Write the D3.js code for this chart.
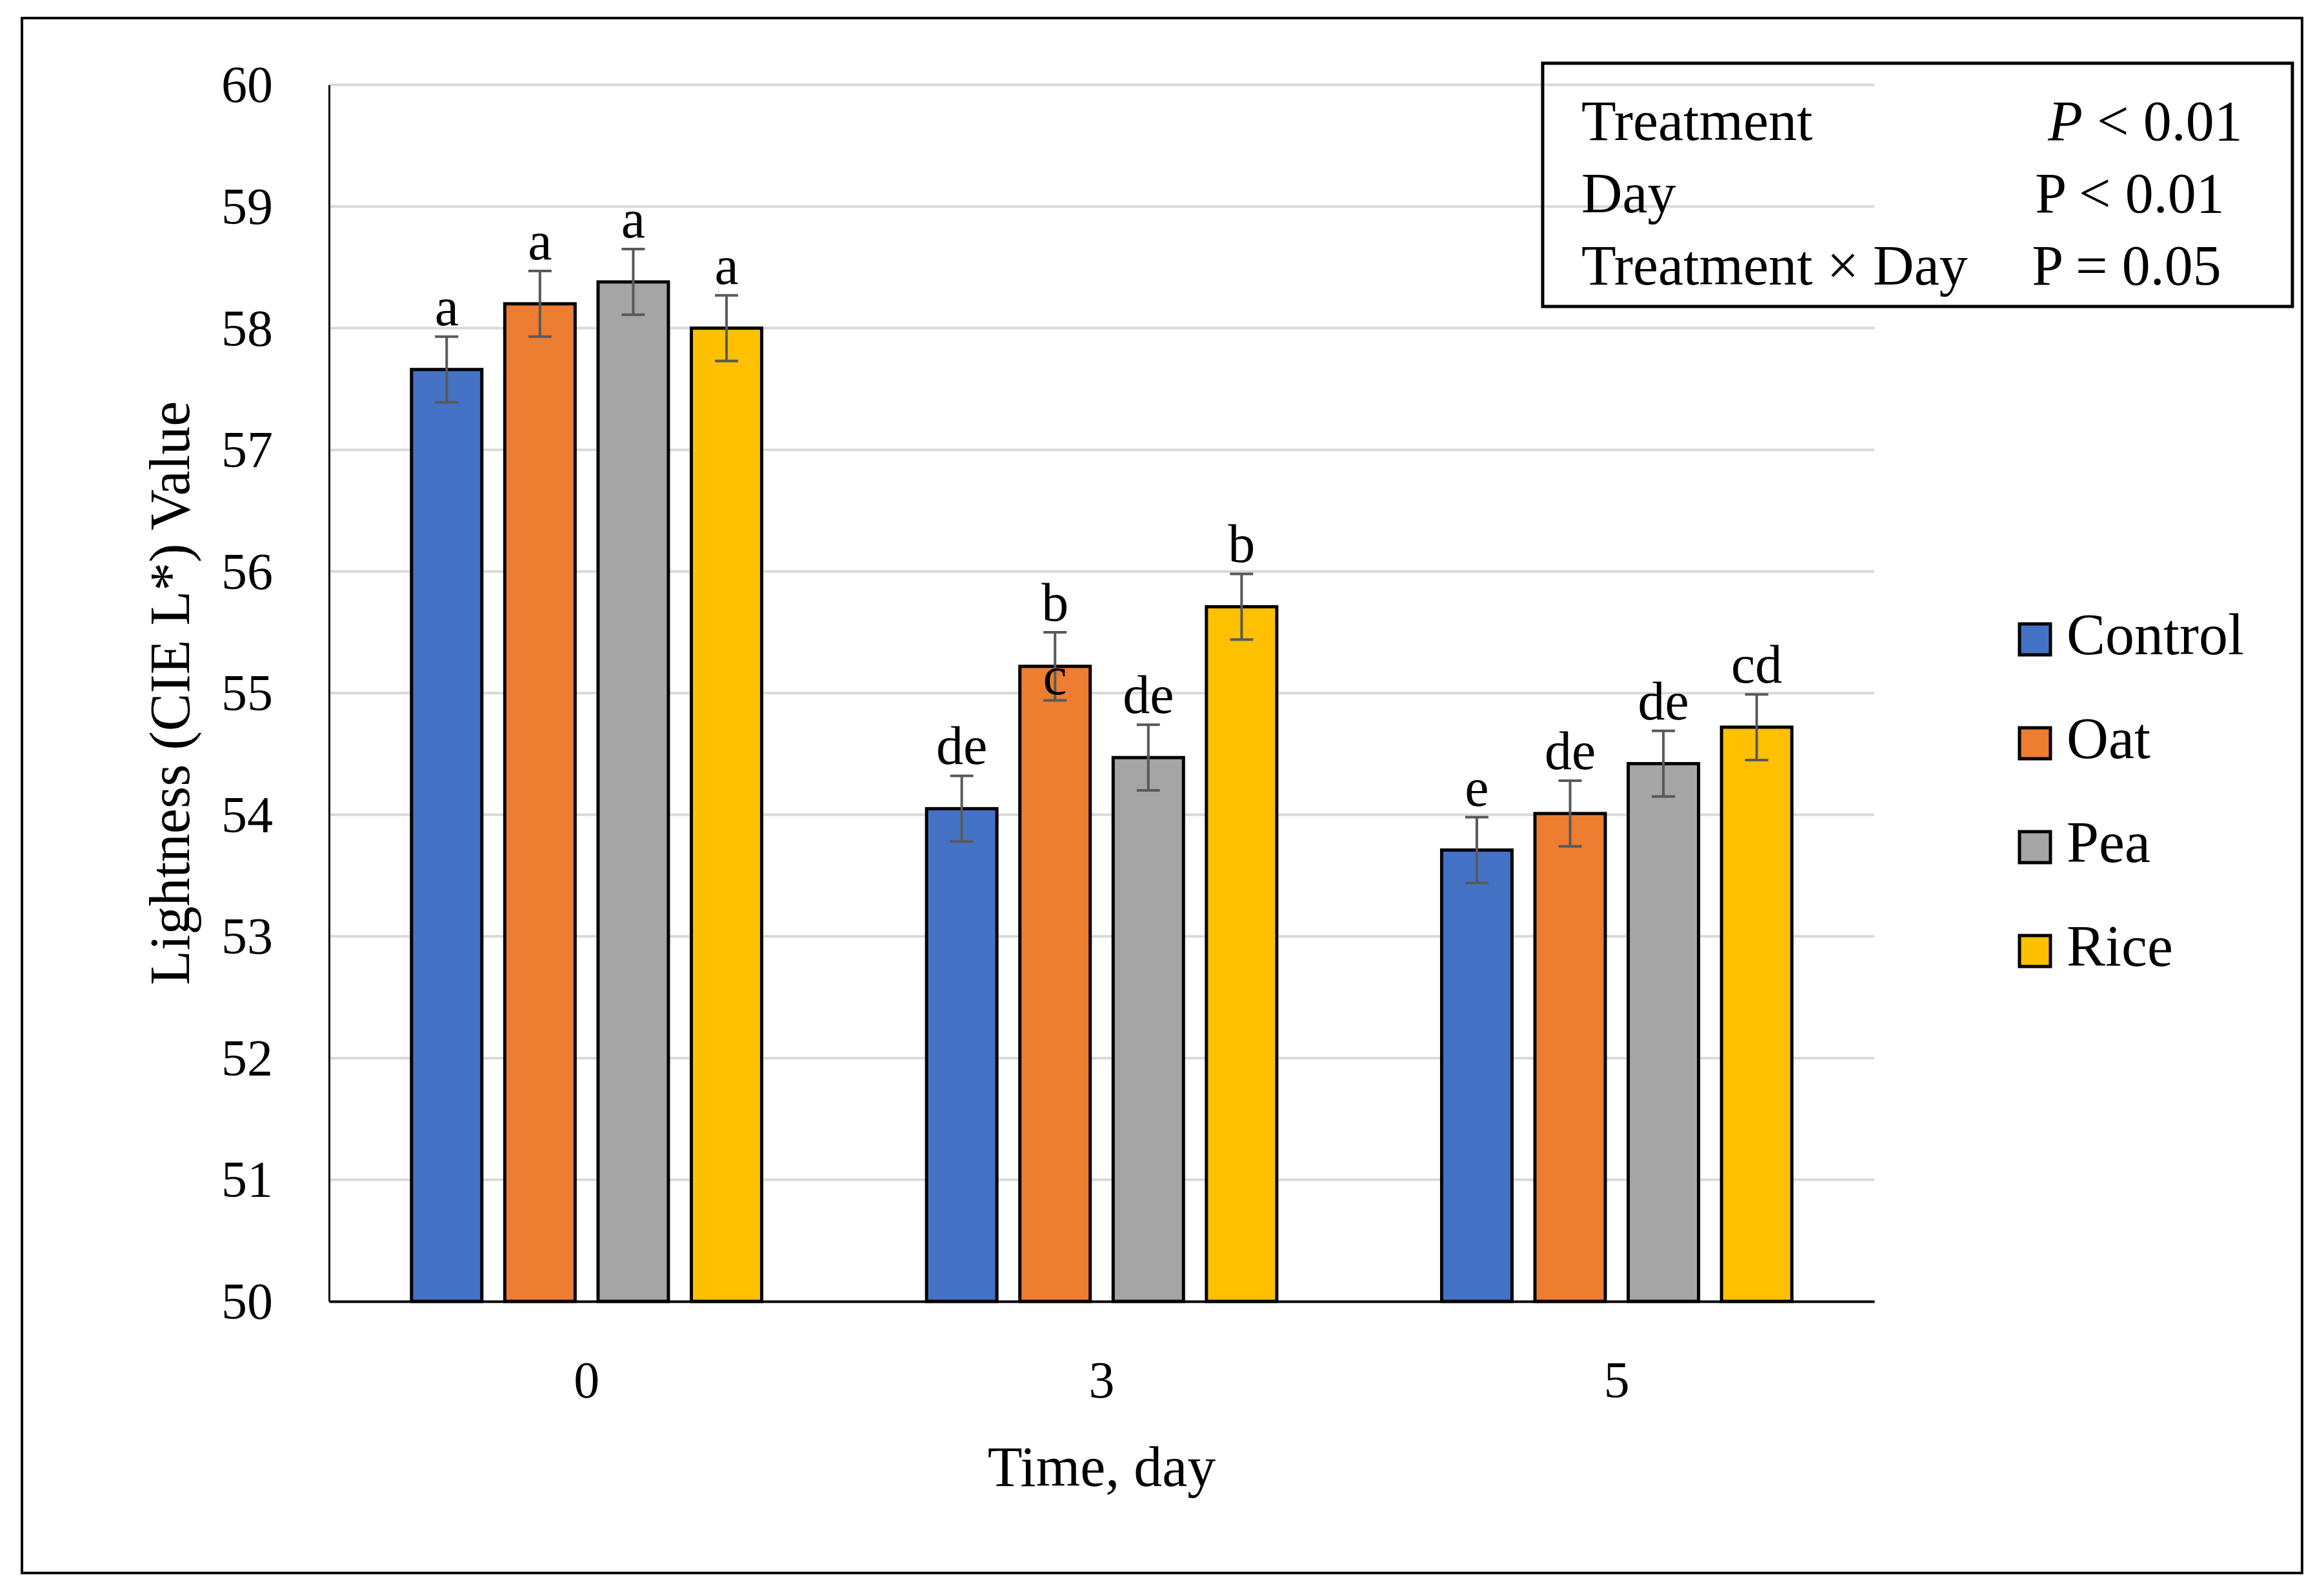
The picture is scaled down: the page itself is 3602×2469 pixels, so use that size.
<!DOCTYPE html>
<html>
<head>
<meta charset="utf-8">
<script src="https://cdn.jsdelivr.net/npm/d3@7"></script>
<style>
  body { margin: 0; background: #fff; }
  text { font-family: "Palatino Linotype", "Book Antiqua", "Liberation Serif", serif; fill: #000; }
</style>
</head>
<body>
<div id="chart"></div>
<script>
// Data
var days = ['0', '3', '5'];
var series = ['Control', 'Oat', 'Pea', 'Rice'];
var colors = ['#4472C4', '#ED7D31', '#A5A5A5', '#FFC000'];
var controlVals = [57.66, 54.05, 53.71];
var oatVals = [58.20, 55.22, 54.01];
var peaVals = [58.38, 54.47, 54.42];
var riceVals = [58.00, 55.71, 54.72];
var controlErr = [0.27, 0.27, 0.27];
var oatErr = [0.27, 0.28, 0.27];
var peaErr = [0.27, 0.27, 0.27];
var riceErr = [0.27, 0.27, 0.27];
var controlLetters = ['a', 'de', 'e'];
var oatLetters = ['a', 'b\nc', 'de'];
var peaLetters = ['a', 'de', 'de'];
var riceLetters = ['a', 'b', 'cd'];
var yTicks = [50, 51, 52, 53, 54, 55, 56, 57, 58, 59, 60];
var statTerms = ['Treatment', 'Day', 'Treatment \u00d7 Day'];
var statSigns = ['<', '<', '='];
var statP = ['0.01', '0.01', '0.05'];
var statItalic = [true, false, false];

var width = 3602, height = 2469;
var margin = {top: 131.5, left: 510, right: 697, bottom: 452};
var plotRight = width - margin.right;
var plotBottom = height - margin.bottom;

var vals = [controlVals, oatVals, peaVals, riceVals];
var errs = [controlErr, oatErr, peaErr, riceErr];
var letters = [controlLetters, oatLetters, peaLetters, riceLetters];

var data = [];
days.forEach(function(d, di) {
    series.forEach(function(s, si) {
        data.push({day: d, series: s, color: colors[si], value: vals[si][di], err: errs[si][di], letter: letters[si][di]});
    });
});

var svg = d3.select('#chart').append('svg')
    .attr('width', width)
    .attr('height', height);

svg.append('rect').attr('width', width).attr('height', height).attr('fill', '#fff');

// Outer frame
svg.append('rect')
    .attr('x', 34).attr('y', 28)
    .attr('width', 3534).attr('height', 2410)
    .attr('fill', 'none').attr('stroke', '#000').attr('stroke-width', 4);

var yScale = d3.scaleLinear().domain([50, 60]).range([plotBottom, margin.top]);
var x0 = d3.scaleBand().domain(days).range([margin.left, plotRight]);
var bw = x0.bandwidth();
var x1 = d3.scaleBand().domain(series)
    .range([bw * 0.1378, bw * (1 - 0.1378)])
    .paddingInner(0.246).paddingOuter(0.123);

// Gridlines
svg.append('g').attr('class', 'grid')
    .selectAll('line').data(yTicks.slice(1)).enter().append('line')
    .attr('x1', margin.left).attr('x2', plotRight)
    .attr('y1', function(d) { return yScale(d); })
    .attr('y2', function(d) { return yScale(d); })
    .attr('stroke', '#d9d9d9').attr('stroke-width', 4);

// Y axis
var yAxis = d3.axisLeft(yScale).tickValues(yTicks).tickSize(0).tickSizeOuter(0).tickPadding(87).tickFormat(d3.format('d'));
var yg = svg.append('g')
    .attr('transform', 'translate(' + margin.left + ',0)')
    .call(yAxis);
yg.select('.domain').attr('stroke', '#000').attr('stroke-width', 3);
yg.selectAll('text').attr('font-size', 80).attr('font-family', null).attr('dy', '0.33em');

// Bars
var bars = svg.append('g').attr('class', 'bars');
bars.selectAll('rect').data(data).enter().append('rect')
    .attr('x', function(d) { return x0(d.day) + x1(d.series); })
    .attr('y', function(d) { return yScale(d.value); })
    .attr('width', x1.bandwidth())
    .attr('height', function(d) { return plotBottom - yScale(d.value); })
    .attr('fill', function(d) { return d.color; })
    .attr('stroke', '#000').attr('stroke-width', 5);

// X axis (drawn over bar bottoms)
var xAxis = d3.axisBottom(x0).tickSize(0).tickSizeOuter(0).tickPadding(92);
var xg = svg.append('g')
    .attr('transform', 'translate(0,' + plotBottom + ')')
    .call(xAxis);
xg.select('.domain').attr('stroke', '#000').attr('stroke-width', 4);
xg.selectAll('text').attr('font-size', 80).attr('font-family', null);

// Error bars
var eb = svg.append('g').attr('class', 'errors')
    .attr('stroke', '#595959').attr('stroke-width', 4);
var cx = function(d) { return x0(d.day) + x1(d.series) + x1.bandwidth() / 2; };
eb.selectAll('.ev').data(data).enter().append('line')
    .attr('x1', cx).attr('x2', cx)
    .attr('y1', function(d) { return yScale(d.value + d.err); })
    .attr('y2', function(d) { return yScale(d.value - d.err); });
[1, -1].forEach(function(sign) {
    eb.selectAll('.cap' + sign).data(data).enter().append('line')
        .attr('x1', function(d) { return cx(d) - 18; })
        .attr('x2', function(d) { return cx(d) + 18; })
        .attr('y1', function(d) { return yScale(d.value + sign * d.err); })
        .attr('y2', function(d) { return yScale(d.value + sign * d.err); });
});

// Significance letters
var lab = svg.append('g').attr('class', 'letters');
lab.selectAll('text').data(data).enter().append('text')
    .attr('text-anchor', 'middle')
    .attr('font-size', 84)
    .attr('x', cx)
    .attr('y', function(d) { return yScale(d.value + d.err) - 18; })
    .each(function(d) {
        var t = d3.select(this);
        d.letter.split('\n').forEach(function(line, i) {
            t.append('tspan').attr('x', cx(d)).attr('dy', i ? '1.36em' : 0).text(line);
        });
    });

// Axis titles
svg.append('text')
    .attr('text-anchor', 'middle')
    .attr('font-size', 88)
    .attr('x', (margin.left + plotRight) / 2)
    .attr('y', 2303)
    .text('Time, day');

svg.append('text')
    .attr('text-anchor', 'middle')
    .attr('font-size', 88)
    .attr('transform', 'translate(293,' + ((margin.top + plotBottom) / 2) + ') rotate(-90)')
    .text('Lightness (CIE L*) Value');

// Legend
var legend = svg.append('g').attr('class', 'legend')
    .selectAll('g').data(series).enter().append('g')
    .attr('transform', function(d, i) { return 'translate(3130,' + (967 + i * 161) + ')'; });
legend.append('rect')
    .attr('width', 48).attr('height', 48)
    .attr('fill', function(d, i) { return colors[i]; })
    .attr('stroke', '#000').attr('stroke-width', 5);
legend.append('text')
    .attr('x', 73).attr('y', 47)
    .attr('font-size', 90)
    .text(function(d) { return d; });

// Statistics box
svg.append('rect')
    .attr('x', 2391).attr('y', 98)
    .attr('width', 1162).attr('height', 377)
    .attr('fill', 'none').attr('stroke', '#000').attr('stroke-width', 5);
var stats = svg.append('g').attr('class', 'stats')
    .selectAll('g').data(statTerms).enter().append('g')
    .attr('transform', function(d, i) { return 'translate(0,' + (217 + i * 112) + ')'; });
stats.append('text')
    .attr('x', 2451).attr('font-size', 88)
    .text(function(d) { return d; });
var statCenters = [3325, 3301, 3296];
stats.append('text')
    .attr('x', function(d, i) { return statCenters[i]; })
    .attr('text-anchor', 'middle')
    .attr('font-size', 88)
    .each(function(d, i) {
        var t = d3.select(this);
        t.append('tspan').attr('font-style', statItalic[i] ? 'italic' : 'normal').text('P');
        t.append('tspan').text(' ' + statSigns[i] + ' ' + statP[i]);
    });
</script>
</body>
</html>
